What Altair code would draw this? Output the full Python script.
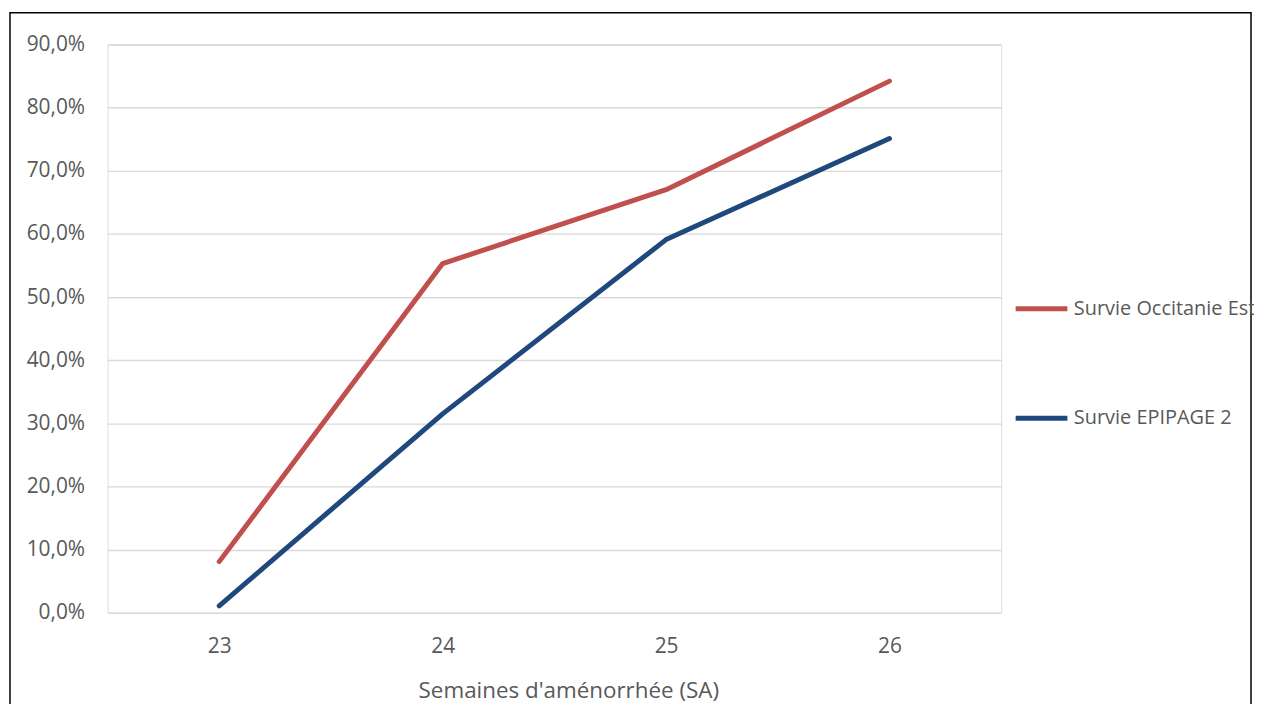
import altair as alt
import pandas as pd

weeks = ["23", "24", "25", "26"]
series_names = ["Survie Occitanie Est", "Survie EPIPAGE 2"]
occitanie = [8.1, 55.3, 67.0, 84.2]
epipage = [1.1, 31.5, 59.1, 75.1]
y_ticks = [0, 10, 20, 30, 40, 50, 60, 70, 80, 90]
x_title = "Semaines d'aménorrhée (SA)"

rows = []
for w, v in zip(weeks, occitanie):
    rows.append({"week": w, "value": v, "series": series_names[0]})
for w, v in zip(weeks, epipage):
    rows.append({"week": w, "value": v, "series": series_names[1]})
df = pd.DataFrame(rows)

FONT = "Open Sans"
GREY = "#595959"

lines = alt.Chart(df).mark_line(strokeWidth=5, strokeCap="round", strokeJoin="round").encode(
    x=alt.X("week:O", sort=weeks, scale=alt.Scale(type="point", padding=0.5),
            axis=alt.Axis(title=x_title, labelAngle=0, domain=False, ticks=False,
                          labelPadding=23, titlePadding=23, labelFontSize=21,
                          titleFontSize=22.5, labelColor=GREY, titleColor=GREY,
                          titleFontWeight="normal", titleX=463, labelFont=FONT, titleFont=FONT)),
    y=alt.Y("value:Q", scale=alt.Scale(domain=[0, 90], nice=False),
            axis=alt.Axis(title=None, values=y_ticks, domain=False, ticks=False,
                          labelPadding=23, labelFontSize=21, labelColor=GREY, labelFont=FONT,
                          gridColor="#D9D9D9", gridWidth=1.4,
                          labelExpr="replace(format(datum.value, '.1f'), '.', ',') + '%'")),
    color=alt.Color("series:N", sort=series_names,
                    scale=alt.Scale(domain=series_names, range=["#C0504D", "#1F497D"]),
                    legend=alt.Legend(title=None, orient="none", legendX=910, legendY=237,
                                      symbolType="stroke", symbolSize=2704, symbolStrokeWidth=5,
                                      labelFontSize=20, labelColor=GREY, labelFont=FONT,
                                      labelOffset=4, rowPadding=71, labelLimit=400)),
)

border = alt.Chart(pd.DataFrame({"b": [0]})).mark_rect(
    fillOpacity=0, stroke="black", strokeWidth=1.5
).encode(
    x=alt.value(-98), x2=alt.value(1149), y=alt.value(-32), y2=alt.value(720)
)

chart = alt.layer(lines, border).properties(
    width=898, height=571,
    autosize=alt.AutoSizeParams(type="none"),
    padding={"left": 100, "top": 35, "right": 254, "bottom": 90},
).configure_view(stroke=None).configure(font=FONT)

chart.save("out.html", embed_options={"renderer": "svg", "actions": False})
